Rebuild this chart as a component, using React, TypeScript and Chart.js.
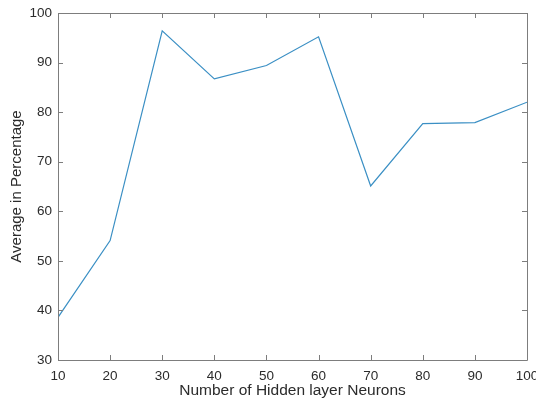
import React, { useEffect, useRef } from "react";
import { Chart, registerables } from "chart.js";

Chart.register(...registerables);

// Hidden-layer sizes and the average accuracy reached with each
const neurons = [10, 20, 30, 40, 50, 60, 70, 80, 90, 100];
const averagePct = [38.6, 54.1, 96.4, 86.7, 89.4, 95.2, 65.1, 77.7, 77.9, 82.0];

const xTicks = [10, 20, 30, 40, 50, 60, 70, 80, 90, 100];
const yTicks = [30, 40, 50, 60, 70, 80, 90, 100];

const FONT = "'Liberation Sans', Arial, Helvetica, sans-serif";
const AXIS_COLOR = "#7d7d7d";
const TEXT_COLOR = "#2b2b2b";

// Box around the plot area with short inward ticks on all four sides
const boxPlugin = {
  id: "matlabBox",
  afterDraw(chart: any) {
    const { ctx, chartArea, scales } = chart;
    const { left, right, top, bottom } = chartArea;
    const tick = 5;
    ctx.save();
    ctx.strokeStyle = AXIS_COLOR;
    ctx.lineWidth = 1;
    ctx.beginPath();
    ctx.rect(Math.round(left) + 0.5, Math.round(top) + 0.5, Math.round(right - left), Math.round(bottom - top));
    for (const v of xTicks) {
      const px = Math.round(scales.x.getPixelForValue(v)) + 0.5;
      ctx.moveTo(px, bottom);
      ctx.lineTo(px, bottom - tick);
      ctx.moveTo(px, top);
      ctx.lineTo(px, top + tick);
    }
    for (const v of yTicks) {
      const py = Math.round(scales.y.getPixelForValue(v)) + 0.5;
      ctx.moveTo(left, py);
      ctx.lineTo(left + tick, py);
      ctx.moveTo(right, py);
      ctx.lineTo(right - tick, py);
    }
    ctx.stroke();
    ctx.restore();
  },
};

export default function App() {
  const canvasRef = useRef<HTMLCanvasElement | null>(null);

  useEffect(() => {
    document.body.style.margin = "0";
    const canvas = canvasRef.current;
    if (!canvas) return;
    const chart = new Chart(canvas, {
      type: "line",
      data: {
        datasets: [
          {
            data: neurons.map((n, i) => ({ x: n, y: averagePct[i] })),
            borderColor: "#3a8fc4",
            borderWidth: 1.2,
            pointRadius: 0,
            tension: 0,
            fill: false,
          },
        ],
      },
      options: {
        animation: false,
        responsive: false,
        maintainAspectRatio: false,
        layout: { padding: { top: 13, right: 9, left: 0, bottom: 0 } },
        plugins: {
          legend: { display: false },
          tooltip: { enabled: false },
        },
        scales: {
          x: {
            type: "linear",
            min: 10,
            max: 100,
            afterFit(scale: any) {
              scale.height = 43;
              // let the last tick label run off the right edge
              scale.paddingLeft = 0;
              scale.paddingRight = 0;
            },
            afterBuildTicks(scale: any) {
              scale.ticks = xTicks.map((v) => ({ value: v }));
            },
            grid: { display: false, drawTicks: false },
            border: { display: false },
            ticks: {
              color: TEXT_COLOR,
              font: { family: FONT, size: 13.5 },
              padding: 8,
              maxRotation: 0,
              autoSkip: false,
            },
            title: {
              display: true,
              text: "Number of Hidden layer Neurons",
              color: TEXT_COLOR,
              font: { family: FONT, size: 15.5 },
              padding: { top: 0, bottom: 3 },
            },
          },
          y: {
            type: "linear",
            min: 30,
            max: 100,
            afterFit(scale: any) {
              scale.width = 58;
              scale.paddingTop = 0;
              scale.paddingBottom = 0;
            },
            afterBuildTicks(scale: any) {
              scale.ticks = yTicks.map((v) => ({ value: v }));
            },
            grid: { display: false, drawTicks: false },
            border: { display: false },
            ticks: {
              color: TEXT_COLOR,
              font: { family: FONT, size: 13.5 },
              padding: 6,
              autoSkip: false,
            },
            title: {
              display: true,
              text: "Average in Percentage",
              color: TEXT_COLOR,
              font: { family: FONT, size: 15 },
              padding: { top: 8, bottom: 0 },
            },
          },
        },
      },
      plugins: [boxPlugin],
    });
    return () => chart.destroy();
  }, []);

  return (
    <div style={{ position: "absolute", left: 0, top: 0, width: 536, height: 403, background: "#fff" }}>
      <canvas ref={canvasRef} width={536} height={403} style={{ display: "block" }} />
    </div>
  );
}
